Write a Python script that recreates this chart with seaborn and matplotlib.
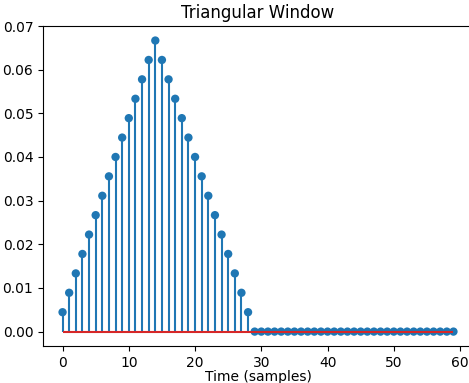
import matplotlib
matplotlib.use("Agg")
import matplotlib.pyplot as plt
import seaborn as sns
import pandas as pd

title = "Triangular Window"
xlabel = "Time (samples)"
samples = list(range(60))
window = [0.00444, 0.00889, 0.01333, 0.01778, 0.02222, 0.02667, 0.03111, 0.03556,
          0.04000, 0.04444, 0.04889, 0.05333, 0.05778, 0.06222, 0.06667,
          0.06222, 0.05778, 0.05333, 0.04889, 0.04444, 0.04000, 0.03556,
          0.03111, 0.02667, 0.02222, 0.01778, 0.01333, 0.00889, 0.00444,
          0, 0, 0, 0, 0, 0, 0, 0, 0, 0,
          0, 0, 0, 0, 0, 0, 0, 0, 0, 0,
          0, 0, 0, 0, 0, 0, 0, 0, 0, 0, 0]

df = pd.DataFrame({"n": samples, "w": window})

sns.set_style("ticks", rc={"axes.edgecolor": "black", "text.color": "black",
                           "axes.labelcolor": "black", "xtick.color": "black",
                           "ytick.color": "black"})
plt.rcParams['font.family'] = ['DejaVu Sans']

fig = plt.figure(figsize=(4.69, 3.83), dpi=100)
ax = fig.add_axes([43/469, 37/383, (473-43)/469, (347-27)/383])

blue = sns.color_palette("tab10")[0]
ax.vlines(df["n"], 0, df["w"], color=blue, linewidth=1.5, zorder=2)
sns.scatterplot(data=df, x="n", y="w", ax=ax, color=blue, s=36, edgecolor="none",
                zorder=3, legend=False)
ax.hlines(0, df["n"].min(), df["n"].max(), color="tab:red", linewidth=1.5, zorder=4)

ax.set_xlim(-2.95, 61.95)
ax.set_ylim(-0.0033, 0.07)
ax.set_xticks([0, 10, 20, 30, 40, 50, 60])
ax.set_yticks([0.0, 0.01, 0.02, 0.03, 0.04, 0.05, 0.06, 0.07])
ax.set_yticklabels([f"{v:.2f}" for v in [0.0, 0.01, 0.02, 0.03, 0.04, 0.05, 0.06, 0.07]])
ax.spines["right"].set_visible(False)
ax.set_title(title, fontsize=12)
ax.set_xlabel(xlabel, fontsize=10, labelpad=0)
ax.set_ylabel("")
ax.tick_params(labelsize=10)

fig.savefig("out.png", dpi=100)
